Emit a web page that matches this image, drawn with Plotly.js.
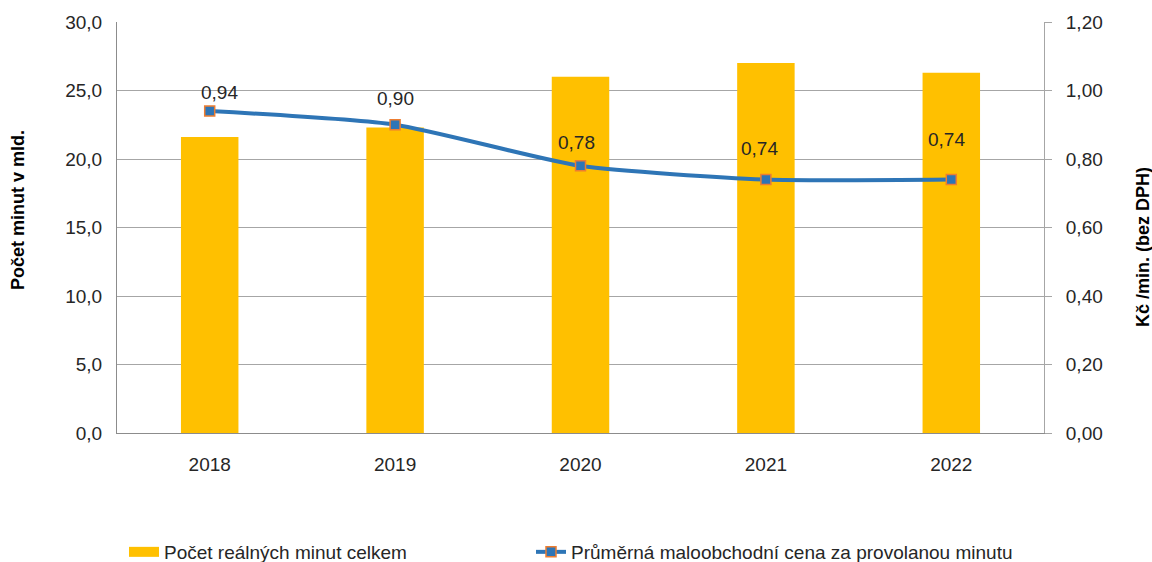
<!DOCTYPE html>
<html>
<head>
<meta charset="utf-8">
<script src="https://cdn.plot.ly/plotly-3.0.1.min.js"></script>
<style>html,body{margin:0;padding:0;background:#fff;}#chart{width:1152px;height:562px;}</style>
</head>
<body>
<div id="chart"></div>
<script>
const years = ['2018', '2019', '2020', '2021', '2022'];
const minutes = [21.6, 22.3, 26.0, 27.0, 26.3];
const prices = [0.94, 0.90, 0.78, 0.74, 0.74];
const barName = 'Počet reálných minut celkem';
const lineName = 'Průměrná maloobchodní cena za provolanou minutu';
const leftTitle = 'Počet minut v mld.';
const rightTitle = 'Kč /min. (bez DPH)';

// label offsets (px) for the data labels
const labelDx = [10, 0, -4, -6, -5];
const labelDy = [19, 26, 23, 31, 40];

const FONT = 'Liberation Sans, Arial, sans-serif';
const BAR = '#FFC000';

const traces = [
  {
    type: 'bar', x: years, y: minutes, name: barName,
    marker: {color: BAR}, yaxis: 'y', showlegend: false,
    hoverinfo: 'skip'
  },
  {
    // legend-only entry giving the bar series a wide rectangular key
    type: 'scatter', mode: 'lines', x: [null], y: [null], name: barName,
    line: {color: BAR, width: 12}, legend: 'legend', showlegend: true
  },
  {
    type: 'scatter', mode: 'lines+markers', x: years, y: prices, name: lineName,
    yaxis: 'y2', legend: 'legend2',
    line: {color: '#2E75B6', width: 4, shape: 'spline', smoothing: 0.6},
    marker: {symbol: 'square', size: 10, color: '#2E75B6', line: {color: '#ED7D31', width: 1.5}}
  }
];

const annotations = years.map((yr, i) => ({
  x: i, y: prices[i], xref: 'x', yref: 'y2',
  text: prices[i].toFixed(2).replace('.', ','),
  showarrow: false, xshift: labelDx[i], yshift: labelDy[i],
  font: {family: FONT, size: 19, color: '#262626'}
}));

// axis titles (placed as in the reference)
const titleFont = {family: FONT, size: 18, color: '#000', weight: 'bold'};
annotations.push({
  text: leftTitle, textangle: -90, showarrow: false,
  xref: 'paper', yref: 'paper', x: (18 - 117) / 927, y: (433 - 210) / 411,
  xanchor: 'center', yanchor: 'middle', font: titleFont
});
annotations.push({
  text: rightTitle, textangle: -90, showarrow: false,
  xref: 'paper', yref: 'paper', x: (1143 - 117) / 927, y: (433 - 247) / 411,
  xanchor: 'center', yanchor: 'middle', font: titleFont
});

const legendFont = {family: FONT, size: 19, color: '#262626'};

const layout = {
  width: 1152, height: 562,
  paper_bgcolor: '#fff', plot_bgcolor: '#fff',
  margin: {l: 117, r: 108, t: 22, b: 129},
  separators: ', ',
  font: {family: FONT, size: 19, color: '#404040'},
  showlegend: true,
  legend: {
    orientation: 'h', xref: 'container', yref: 'container',
    x: 124 / 1152, xanchor: 'left', y: 10 / 562, yanchor: 'middle',
    font: legendFont, bgcolor: 'rgba(0,0,0,0)'
  },
  legend2: {
    orientation: 'h', xref: 'container', yref: 'container',
    x: 531 / 1152, xanchor: 'left', y: 10 / 562, yanchor: 'middle',
    font: legendFont, bgcolor: 'rgba(0,0,0,0)'
  },
  bargap: 0.69,
  xaxis: {
    type: 'category', range: [-0.5, 4.5], autorange: false,
    showline: true, linecolor: '#8C8C8C', linewidth: 1,
    ticks: '', ticklabelstandoff: 14, showgrid: false, zeroline: false,
    tickfont: {family: FONT, size: 19, color: '#262626'}
  },
  yaxis: {
    range: [0, 30], dtick: 5, tickformat: '.1f',
    showline: true, linecolor: '#8C8C8C', linewidth: 1,
    showgrid: true, gridcolor: '#A6A6A6', gridwidth: 1, zeroline: false,
    ticks: '', ticklabelstandoff: 10,
    tickfont: {family: FONT, size: 19, color: '#262626'}
  },
  yaxis2: {
    range: [0, 1.2], dtick: 0.2, tickformat: '.2f', overlaying: 'y', side: 'right',
    showline: true, linecolor: '#A6A6A6', linewidth: 1,
    showgrid: false, zeroline: false,
    ticks: 'outside', ticklen: 7, tickcolor: '#A6A6A6', ticklabelstandoff: 10,
    tickfont: {family: FONT, size: 19, color: '#262626'}
  },
  annotations: annotations
};

Plotly.newPlot('chart', traces, layout, {staticPlot: true, displayModeBar: false});
</script>
</body>
</html>
